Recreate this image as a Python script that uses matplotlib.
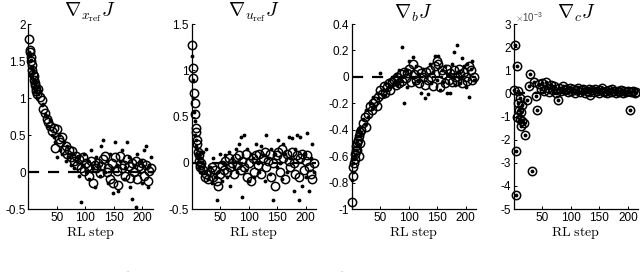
import numpy as np
import matplotlib
matplotlib.use('Agg')
import matplotlib.pyplot as plt

plt.rcParams['font.family'] = 'Liberation Sans'
plt.rcParams['mathtext.fontset'] = 'cm'
plt.rcParams['axes.unicode_minus'] = False

# RL steps: every step at the start, then every 3rd step
steps = np.concatenate([np.arange(1, 16), np.arange(17, 216, 3)])

# gradient wrt x_ref
xref_circ = [1.80, 1.65, 1.62, 1.55, 1.50, 1.45, 1.38, 1.33, 1.30, 1.25, 1.20, 1.18, 1.12, 1.10, 1.05,
             1.12, 1.02, 0.98, 0.85, 0.80, 0.72, 0.68, 0.62, 0.55, 0.60, 0.33, 0.58, 0.45, 0.40, 0.48,
             0.30, 0.35, 0.25, 0.30, 0.20, 0.28, 0.15, 0.22, 0.10, 0.18, 0.05, 0.20, 0.02, 0.12, 0.08,
             -0.05, 0.15, -0.15, 0.10, 0.05, 0.12, -0.02, 0.08, 0.18, 0.22, 0.00, 0.05, -0.10, 0.12,
             -0.15, 0.20, 0.02, -0.18, 0.22, 0.05, 0.10, -0.05, 0.18, 0.08, -0.08, 0.12, 0.00, 0.15,
             -0.10, 0.08, 0.05, 0.12, -0.05, 0.10, -0.12, 0.02, 0.05]
xref_dots = [1.62, 1.58, 1.50, 1.52, 1.40, 1.42, 1.30, 1.35, 1.22, 1.25, 1.15, 1.20, 1.08, 1.12, 1.00,
             1.05, 1.10, 0.90, 0.92, 0.78, 0.75, 0.62, 0.70, 0.50, 0.48, 0.40, 0.20, 0.50, 0.30, 0.25,
             0.40, 0.15, 0.35, 0.20, 0.10, 0.25, 0.05, 0.15, 0.20, -0.05, -0.40, 0.10, 0.25, 0.00, 0.15,
             -0.10, 0.30, 0.05, -0.20, 0.20, 0.10, -0.05, 0.35, 0.43, 0.00, 0.15, -0.15, 0.25, 0.05,
             -0.28, 0.40, 0.10, -0.25, 0.15, 0.30, -0.10, 0.05, 0.40, 0.20, -0.20, -0.37, 0.10, -0.47,
             0.25, 0.00, 0.15, -0.15, 0.30, 0.35, -0.20, 0.10, 0.20]

# gradient wrt u_ref
uref_circ = [1.27, 1.03, 0.92, 0.75, 0.65, 0.53, 0.38, 0.33, 0.25, 0.20, 0.12, 0.08, 0.02, -0.02, -0.05,
             0.00, -0.08, -0.15, -0.12, -0.18, -0.10, -0.05, -0.15, -0.08, -0.20, -0.25, -0.12, -0.02,
             -0.08, 0.02, -0.10, 0.05, -0.05, 0.00, -0.12, 0.05, -0.02, 0.08, -0.08, 0.02, -0.05, 0.10,
             -0.15, 0.00, -0.20, 0.05, -0.10, 0.08, -0.02, 0.10, -0.12, 0.05, 0.12, -0.05, 0.02, 0.10,
             -0.15, 0.00, -0.25, 0.08, 0.12, -0.10, 0.15, 0.05, -0.18, 0.10, 0.02, -0.05, 0.12, 0.00,
             -0.12, 0.08, -0.15, 0.05, 0.10, -0.08, 0.02, 0.08, -0.05, -0.12, -0.18, 0.00]
uref_dots = [1.15, 0.90, 0.70, 0.55, 0.45, 0.30, 0.25, 0.18, 0.15, 0.10, 0.05, 0.08, -0.05, 0.12, -0.10,
             0.05, 0.12, -0.10, 0.15, -0.18, -0.05, -0.22, 0.05, -0.15, -0.40, -0.10, 0.10, -0.20,
             0.00, 0.08, -0.15, 0.12, -0.25, 0.05, -0.05, 0.15, -0.10, 0.20, 0.28, -0.37, 0.30, -0.08,
             0.15, -0.20, 0.10, 0.05, -0.15, 0.20, 0.00, -0.10, 0.18, 0.08, -0.20, 0.30, 0.05, -0.12,
             0.15, -0.40, 0.10, -0.05, 0.25, 0.00, -0.18, 0.20, 0.10, -0.10, 0.28, 0.05, 0.27, -0.30,
             0.15, 0.30, -0.40, 0.28, -0.25, 0.10, -0.15, 0.32, -0.30, 0.05, 0.20, -0.10]

# gradient wrt b
b_circ = [-0.95, -0.75, -0.68, -0.65, -0.58, -0.62, -0.55, -0.52, -0.50, -0.55, -0.48, -0.60, -0.45, -0.50, -0.42,
          -0.40, -0.35, -0.30, -0.38, -0.28, -0.22, -0.25, -0.20, -0.18, -0.22, -0.15, -0.10, -0.13,
          -0.07, -0.12, -0.08, -0.05, -0.10, -0.04, -0.02, -0.06, 0.00, -0.05, 0.02, -0.03, 0.04, -0.01,
          0.03, 0.06, -0.04, 0.10, 0.02, -0.02, 0.05, -0.05, 0.03, 0.00, -0.06, 0.04, -0.02, 0.05,
          0.00, -0.07, 0.08, 0.12, 0.10, -0.08, 0.05, 0.02, -0.05, 0.06, -0.02, 0.03, -0.04, 0.05,
          0.00, -0.03, 0.06, 0.02, -0.05, 0.04, 0.00, -0.03, 0.08, 0.05, -0.02, 0.00]
b_dots = [-0.78, -0.72, -0.65, -0.62, -0.55, -0.60, -0.50, -0.55, -0.48, -0.45, -0.52, -0.42, -0.40, -0.45, -0.38,
          -0.42, -0.32, -0.36, -0.25, -0.30, -0.20, -0.24, -0.15, -0.22, -0.12, -0.16, 0.03, -0.10,
          -0.14, -0.05, -0.09, -0.02, -0.08, 0.00, -0.05, 0.02, -0.06, 0.05, -0.03, 0.23, -0.20, 0.05,
          -0.08, 0.12, 0.00, 0.15, -0.05, 0.08, -0.03, 0.02, -0.12, 0.06, -0.16, 0.00, -0.13, 0.10,
          -0.05, 0.04, 0.16, -0.02, 0.16, -0.10, 0.05, -0.04, 0.08, -0.12, 0.02, -0.12, 0.10, 0.19,
          -0.06, 0.24, 0.04, -0.05, 0.14, 0.08, -0.08, 0.10, -0.15, 0.06, 0.12, -0.02]

# gradient wrt c (units of 1e-3)
c_vals = [0.15, 2.10, -4.40, -2.50, 1.20, -1.00, -0.40, 0.10, -0.70, -1.10, -0.20, -1.40, -0.80, -1.20, -0.50,
          -1.30, -1.80, -0.30, 0.30, 0.85, -3.35, 0.50, -0.10, -0.70, 0.40, 0.20, 0.45, 0.10, 0.50,
          0.25, 0.05, 0.35, 0.15, 0.30, 0.00, -0.30, 0.25, 0.10, 0.30, 0.15, 0.20, 0.05, 0.25, 0.10,
          0.20, 0.00, 0.15, 0.25, 0.05, 0.15, 0.20, 0.00, 0.10, 0.20, -0.05, 0.15, 0.05, 0.20, 0.10,
          0.00, 0.15, 0.25, 0.05, 0.10, 0.00, 0.15, 0.05, 0.20, 0.10, 0.00, 0.10, 0.05, 0.15, 0.00,
          0.10, 0.05, 0.10, -0.70, 0.05, 0.10, 0.00, 0.05]

titles = [r'$\nabla_{x_{\mathrm{ref}}}J$', r'$\nabla_{u_{\mathrm{ref}}}J$', r'$\nabla_{b}J$', r'$\nabla_{c}J$']
circ_data = [xref_circ, uref_circ, b_circ, c_vals]
dot_data = [xref_dots, uref_dots, b_dots, c_vals]
ylims = [(-0.5, 2), (-0.5, 1.5), (-1, 0.4), (-5, 3)]
yticks = [[-0.5, 0, 0.5, 1, 1.5, 2],
          [-0.5, 0, 0.5, 1, 1.5],
          [-1, -0.8, -0.6, -0.4, -0.2, 0, 0.2, 0.4],
          [-5, -4, -3, -2, -1, 0, 1, 2, 3]]
lefts = [0.0445, 0.2995, 0.5495, 0.803]

fig = plt.figure(figsize=(6.4, 2.72), dpi=100)

for i in range(4):
    ax = fig.add_axes([lefts[i], 0.2316, 0.194, 0.680])
    ax.plot([0, 218], [0, 0], color='black', lw=1.6, dashes=(5, 4), zorder=1)
    yc = circ_data[i]
    yd = dot_data[i]
    ax.plot(steps[:len(yc)], yc, 'o', ms=6, mfc='none', mec='black', mew=1.1,
            clip_on=False, zorder=2)
    ax.plot(steps[:len(yd)], yd, '.', ms=3.5, color='black', clip_on=False, zorder=3)
    ax.set_xlim(0, 218)
    ax.set_ylim(ylims[i])
    ax.set_xticks([50, 100, 150, 200])
    ax.set_yticks(yticks[i])
    ax.set_yticklabels(['%g' % t for t in yticks[i]])
    ax.spines['top'].set_visible(False)
    ax.spines['right'].set_visible(False)
    ax.spines['left'].set_linewidth(0.9)
    ax.spines['bottom'].set_linewidth(0.9)
    ax.tick_params(direction='in', length=2.5, width=0.7, labelsize=8.5, pad=2)
    ax.set_title(titles[i], fontsize=14, pad=1)
    ax.set_xlabel(r'$\mathrm{RL\ step}$', fontsize=10, labelpad=1)
    if i == 3:
        ax.text(0.01, 1.0, r'$\times$10$^{\mathregular{-3}}$', transform=ax.transAxes,
                fontsize=7, color='#444444', va='bottom', ha='left')

# figure caption, cut by the bottom edge as in the source image
fig.text(0.0, -0.042, r'$\mathrm{Fig.\ 3:\ Policy\ gradients\ with\ respect\ to\ the\ learned\ parameters.}$',
         fontsize=11, ha='left', va='baseline')

fig.savefig('out.png', dpi=100)
